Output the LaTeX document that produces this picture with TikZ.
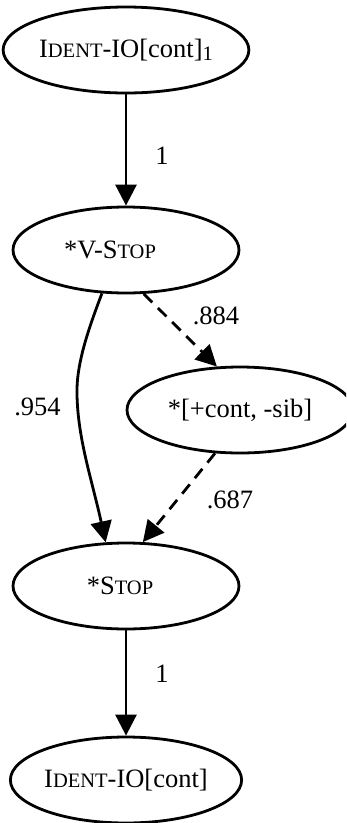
\documentclass[tikz,border=0pt]{standalone}
\usepackage{fontspec}
\setmainfont{Liberation Serif}
\usetikzlibrary{arrows.meta,shapes.geometric}

% faked small capitals: reduced-size capitals
\newcommand{\smc}[1]{{\fontsize{20.5}{21}\selectfont #1}}

\begin{document}
\begin{tikzpicture}[x=1pt,y=-1pt,
  every node/.style={font=\fontsize{26.5}{30}\selectfont},
  state/.style={ellipse,draw,line width=2.8pt,inner sep=0pt,
    minimum width=226pt,minimum height=86pt},
  wlabel/.style={inner sep=0pt},
  edge/.style={line width=2.8pt,-{Triangle[length=21pt,width=21pt]}},
  dedge/.style={edge,dash pattern=on 12pt off 8pt}]
\useasboundingbox (0,0) rectangle (346,823);
\clip (0,0) rectangle (346,823);

\node[state] (ident1) at (126,50)  {I\smc{DENT}-IO[cont]\raisebox{-0.25ex}{\smc{1}}};
\node[state] (vstop)  at (126,250) {*V-S\smc{TOP}\kern32pt\null};
\node[state] (sib)    at (240,410) {*[+cont, -sib]};
\node[state] (stop)   at (126,586) {*S\smc{TOP}\kern12pt\null};
\node[state] (ident2) at (126,780) {I\smc{DENT}-IO[cont]};

\draw[edge]  (ident1.south) -- (vstop.north);
\draw[dedge] (vstop.-68) -- (sib.118);
\draw[edge]  (vstop.241) .. controls (88,330) and (76,365) .. (77,395)
                          .. controls (78,440) and (92,480) .. (stop.115);
\draw[dedge] (sib.240) -- (stop.69);
\draw[edge]  (stop.south) -- (ident2.north);

\node[wlabel] (l1) at (162,156) {1};
\node[wlabel] (l884) at (216,316) {.884};
\node[wlabel] (l954) at (37.5,407) {.954};
\node[wlabel] (l687) at (230,500) {.687};
\node[wlabel] (l2) at (162,674) {1};
\end{tikzpicture}
\end{document}
